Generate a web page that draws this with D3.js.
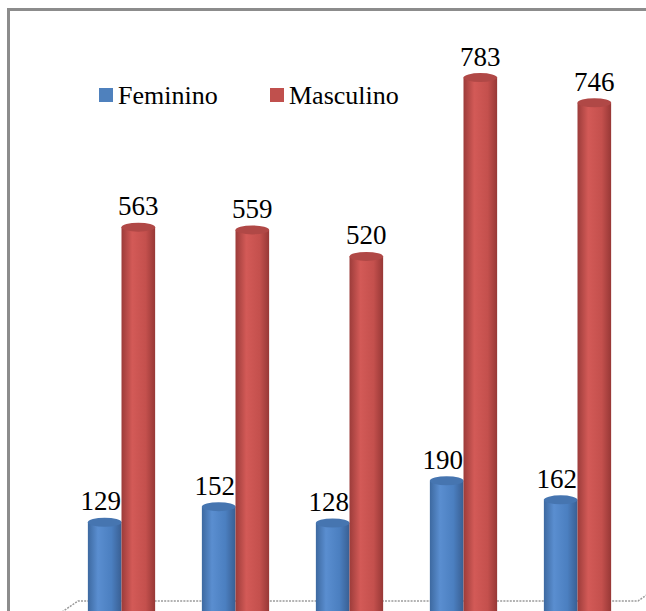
<!DOCTYPE html>
<html>
<head>
<meta charset="utf-8">
<script src="https://cdn.jsdelivr.net/npm/d3@7"></script>
</head>
<body style="margin:0">
<svg id="s" width="646" height="611"></svg>
<script>
// Categories (their axis labels sit below the visible area)
const categories = ["1", "2", "3", "4", "5"];
const seriesNames = ["Feminino", "Masculino"];
const feminino = [129, 152, 128, 190, 162];
const masculino = [563, 559, 520, 783, 746];
const seriesValues = [feminino, masculino];

const H = 611;
const serifFace = "Times";
const svg = d3.select("#s");

// Colour ramps across each cylinder (dark edge, highlight, body, dark edge)
const ramps = {
  Feminino: [["0%", "#3d69a0"], ["30%", "#5a8ed0"], ["70%", "#4b7fc0"], ["100%", "#395f93"]],
  Masculino: [["0%", "#9c3c3a"], ["32%", "#d35a57"], ["72%", "#c4504d"], ["100%", "#973836"]]
};
const capColor = { Feminino: "#4675b0", Masculino: "#b04846" };
const legendColor = { Feminino: "#4f81bd", Masculino: "#c0504d" };

const defs = svg.append("defs");
seriesNames.forEach(s => {
  const g = defs.append("linearGradient").attr("id", "grad-" + s)
    .attr("x1", "0%").attr("x2", "100%").attr("y1", "0%").attr("y2", "0%");
  ramps[s].forEach(([o, c]) => g.append("stop").attr("offset", o).attr("stop-color", c));
});

// Outer frame (left and top edges are in view)
svg.append("path")
  .attr("d", "M8.5,620 L8.5,9.5 L660,9.5")
  .attr("fill", "none").attr("stroke", "#8c8c8c").attr("stroke-width", 3);

// Scales
const x0 = d3.scaleBand().domain(categories).range([64.5, 634.5])
  .paddingInner(0.41).paddingOuter(0.205);
const x1 = d3.scaleBand().domain(seriesNames).range([0, x0.bandwidth()]);
const y = d3.scaleLinear().domain([0, 800]).range([610, 66]);

// Floor edge of the 3D plot
const floorY = 601;
svg.append("path")
  .attr("d", `M62,612 L78,${floorY} L638,${floorY} L648,594`)
  .attr("fill", "none").attr("stroke", "#9a9a9a").attr("stroke-width", 1.5)
  .attr("stroke-dasharray", "2,1.2");

// Cylinders
const data = [];
seriesNames.forEach((s, si) => {
  categories.forEach((c, ci) => data.push({ s, c, v: seriesValues[si][ci] }));
});

const bars = svg.append("g");
const bw = x1.bandwidth();
const ry = 4.5;

seriesNames.forEach(s => {
  const sd = data.filter(d => d.s === s);
  const g = bars.append("g");
  g.selectAll("rect").data(sd).join("rect")
    .attr("x", d => x0(d.c) + x1(d.s))
    .attr("y", d => y(d.v))
    .attr("width", bw)
    .attr("height", d => H + 10 - y(d.v))
    .attr("fill", `url(#grad-${s})`);
  g.selectAll("ellipse").data(sd).join("ellipse")
    .attr("cx", d => x0(d.c) + x1(d.s) + bw / 2)
    .attr("cy", d => y(d.v))
    .attr("rx", bw / 2)
    .attr("ry", ry)
    .attr("fill", capColor[s]);
});

// Value labels
const labelShift = { Feminino: -4, Masculino: 0 };
svg.append("g").selectAll("text").data(data).join("text")
  .attr("x", d => x0(d.c) + x1(d.s) + bw / 2 + labelShift[d.s])
  .attr("y", d => y(d.v) - 12)
  .attr("text-anchor", "middle")
  .attr("font-size", 27)
  .style("font-family", serifFace)
  .text(d => d.v);

// Legend
const legendX = { Feminino: 99, Masculino: 270 };
const lg = svg.append("g");
seriesNames.forEach(s => {
  lg.append("rect").attr("x", legendX[s]).attr("y", 88).attr("width", 14).attr("height", 14)
    .attr("fill", legendColor[s]);
  lg.append("text").attr("x", legendX[s] + 19).attr("y", 104)
    .attr("font-size", 26)
    .style("font-family", serifFace)
    .text(s);
});
</script>
</body>
</html>
